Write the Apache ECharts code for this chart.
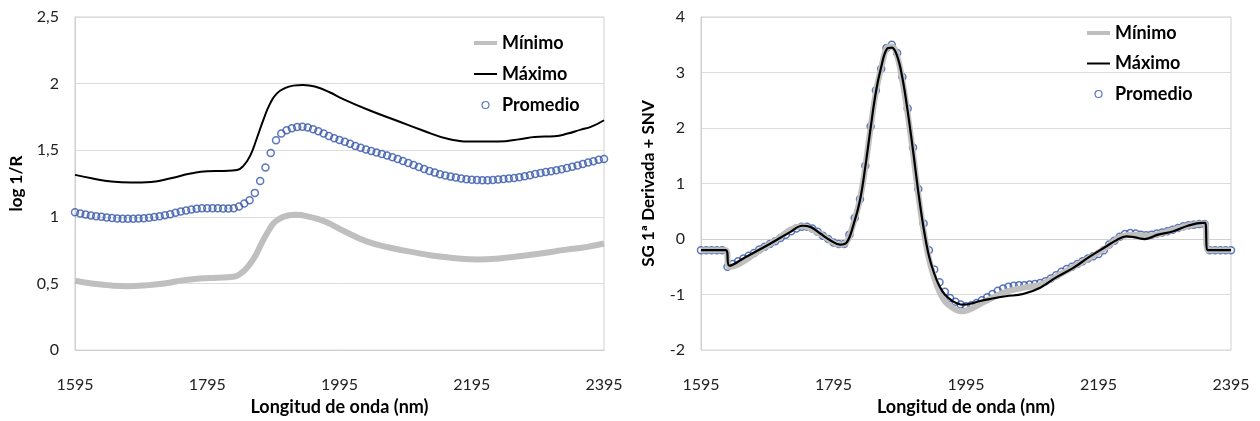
<!DOCTYPE html>
<html>
<head>
<meta charset="utf-8">
<script src="https://cdn.jsdelivr.net/npm/echarts@6/dist/echarts.min.js"></script>
<style>
html,body{margin:0;padding:0;background:#fff;}
#chart{width:1260px;height:421px;}
</style>
</head>
<body>
<div id="chart"></div>
<script>
// ---------- shared ----------
const xTickLabels = [1595, 1795, 1995, 2195, 2395];
const seriesNames = ['Mínimo', 'Máximo', 'Promedio'];

// Promedio sampling wavelengths (nm)
const wlProm = [1595,1603,1611,1619,1627,1635,1643,1651,1659,1667,1675,1683,1691,1699,1707,1715,1723,1731,1739,1747,1755,1763,1771,1779,1787,1795,1803,1811,1819,1827,1835,1843,1851,1859,1867,1875,1883,1891,1899,1907,1915,1923,1931,1939,1947,1955,1963,1971,1979,1987,1995,2003,2011,2019,2027,2035,2043,2051,2059,2067,2075,2083,2091,2099,2107,2115,2123,2131,2139,2147,2155,2163,2171,2179,2187,2195,2203,2211,2219,2227,2235,2243,2251,2259,2267,2275,2283,2291,2299,2307,2315,2323,2331,2339,2347,2355,2363,2371,2379,2387,2395];

// ---------- left chart: log 1/R ----------
const leftYTicks = [0, 0.5, 1, 1.5, 2, 2.5];
const leftPromedio = [1.035,1.025,1.018,1.011,1.005,1.0,0.995,0.991,0.988,0.986,0.985,0.986,0.988,0.99,0.994,0.999,1.005,1.012,1.02,1.03,1.04,1.048,1.055,1.061,1.064,1.065,1.065,1.064,1.062,1.062,1.065,1.078,1.10,1.125,1.18,1.27,1.37,1.48,1.575,1.625,1.65,1.665,1.675,1.676,1.67,1.658,1.642,1.625,1.607,1.59,1.576,1.563,1.548,1.532,1.518,1.505,1.494,1.483,1.472,1.46,1.447,1.434,1.42,1.405,1.39,1.375,1.36,1.345,1.332,1.32,1.31,1.302,1.295,1.288,1.283,1.279,1.276,1.275,1.275,1.277,1.28,1.284,1.288,1.292,1.298,1.305,1.313,1.321,1.329,1.336,1.343,1.35,1.358,1.366,1.376,1.386,1.397,1.408,1.418,1.428,1.435];

const leftMaxWl = [1595,1620,1650,1680,1710,1740,1770,1795,1820,1840,1850,1860,1870,1880,1890,1900,1912,1925,1940,1960,1980,2000,2040,2080,2120,2160,2200,2235,2270,2290,2320,2340,2360,2375,2395];
const leftMaxVal = [1.315,1.29,1.265,1.258,1.262,1.29,1.325,1.342,1.345,1.352,1.385,1.46,1.59,1.73,1.85,1.925,1.965,1.985,1.99,1.975,1.935,1.885,1.80,1.725,1.65,1.585,1.565,1.565,1.585,1.60,1.605,1.625,1.655,1.675,1.725];

const leftMinWl = [1595,1620,1650,1673,1700,1730,1760,1784,1810,1834,1847,1857,1867,1877,1887,1897,1910,1928,1950,1973,2003,2036,2070,2112,2150,2203,2240,2288,2338,2370,2395];
const leftMinVal = [0.52,0.5,0.485,0.48,0.485,0.5,0.525,0.538,0.543,0.55,0.58,0.63,0.70,0.80,0.89,0.96,1.0,1.015,1.0,0.965,0.89,0.816,0.77,0.73,0.70,0.68,0.69,0.717,0.754,0.775,0.80];

// ---------- right chart: SG 1ª derivada + SNV ----------
const rightYTicks = [-2, -1, 0, 1, 2, 3, 4];
const rightPromedio = [-0.2,-0.2,-0.2,-0.2,-0.2,-0.5,-0.45,-0.40,-0.35,-0.30,-0.25,-0.19,-0.14,-0.09,-0.04,0.02,0.08,0.14,0.19,0.22,0.22,0.19,0.13,0.06,0.0,-0.06,-0.09,-0.09,0.08,0.38,0.72,1.32,2.03,2.68,3.07,3.44,3.5,3.35,2.92,2.35,1.65,0.9,0.28,-0.2,-0.55,-0.78,-0.95,-1.06,-1.13,-1.18,-1.21,-1.19,-1.15,-1.1,-1.05,-0.99,-0.93,-0.89,-0.86,-0.84,-0.83,-0.83,-0.82,-0.81,-0.79,-0.76,-0.71,-0.65,-0.59,-0.54,-0.5,-0.45,-0.4,-0.35,-0.31,-0.27,-0.2,-0.1,-0.03,0.04,0.09,0.11,0.1,0.08,0.07,0.08,0.1,0.12,0.14,0.17,0.2,0.23,0.25,0.26,0.27,0.27,-0.2,-0.2,-0.2,-0.2,-0.2];

const rightMaxWl = [1595,1632,1638,1660,1700,1730,1748,1760,1775,1790,1805,1815,1825,1835,1843,1851,1859,1867,1876,1883,1891,1899,1907,1915,1923,1931,1939,1947,1955,1963,1975,1990,2000,2015,2031,2055,2081,2107,2130,2157,2180,2207,2222,2237,2250,2265,2285,2308,2330,2352,2356,2360,2395];
const rightMaxVal = [-0.2,-0.2,-0.48,-0.34,-0.08,0.13,0.24,0.22,0.1,-0.02,-0.1,-0.06,0.25,0.7,1.3,2.0,2.65,3.1,3.43,3.45,3.3,2.9,2.3,1.6,0.85,0.2,-0.3,-0.62,-0.85,-1.0,-1.12,-1.18,-1.17,-1.12,-1.08,-1.03,-0.99,-0.875,-0.7,-0.52,-0.33,-0.13,-0.02,0.05,0.03,0.0,0.08,0.14,0.24,0.29,0.29,-0.2,-0.2];

const rightMinWl = [1595,1632,1638,1700,1748,1775,1805,1815,1825,1835,1843,1851,1859,1867,1876,1883,1891,1899,1907,1915,1923,1931,1939,1947,1955,1963,1975,1988,2000,2015,2031,2055,2081,2107,2130,2157,2187,2207,2230,2250,2270,2300,2330,2352,2356,2360,2395];
const rightMinVal = [-0.2,-0.2,-0.5,-0.08,0.23,0.09,-0.1,-0.05,0.28,0.72,1.3,2.0,2.65,3.08,3.45,3.47,3.3,2.85,2.25,1.55,0.8,0.15,-0.35,-0.7,-0.95,-1.12,-1.24,-1.3,-1.27,-1.18,-1.08,-0.95,-0.88,-0.82,-0.68,-0.5,-0.3,-0.15,0.05,0.08,0.06,0.14,0.24,0.28,0.28,-0.2,-0.2];

// ---------- helpers ----------
const FONT = 'Lato, "Open Sans", "DejaVu Sans", sans-serif';
const GREY = '#BFBFBF';
const BLUE = '#3355AA';
const zip = (xs, ys) => xs.map((x, i) => [x, ys[i]]);

function xAxisCfg(gi) {
  return {
    gridIndex: gi, type: 'value', min: 1595, max: 2395,
    name: 'Longitud de onda (nm)', nameLocation: 'middle', nameGap: 46,
    nameTextStyle: { fontFamily: FONT, fontSize: 18, fontWeight: 'bold', color: '#000' },
    axisLine: { show: true, lineStyle: { color: '#D0D0D0', width: 1 } },
    axisTick: { show: false },
    splitLine: { show: false },
    axisLabel: { customValues: xTickLabels, formatter: v => String(v), fontFamily: FONT, fontSize: 16, color: '#222', margin: 27, showMinLabel: true, showMaxLabel: true }
  };
}
function yAxisCfg(gi, name, ticks, fmt, gap) {
  return {
    gridIndex: gi, type: 'value', min: ticks[0], max: ticks[ticks.length - 1], interval: ticks[1] - ticks[0],
    name: name, nameLocation: 'middle', nameGap: gap,
    nameTextStyle: { fontFamily: FONT, fontSize: 17, fontWeight: 'bold', color: '#000' },
    axisLine: { show: true, lineStyle: { color: '#D0D0D0', width: 1 } },
    axisTick: { show: false },
    splitLine: { show: true, lineStyle: { color: '#DCDCDC', width: 1 } },
    axisLabel: { formatter: fmt, fontFamily: FONT, fontSize: 16, color: '#222', margin: 16 }
  };
}
function lineSeries(name, gi, data, color, width, smooth) {
  return {
    name: name, type: 'line', xAxisIndex: gi, yAxisIndex: gi, data: data,
    smooth: smooth, symbol: 'none', showSymbol: false,
    lineStyle: { color: color, width: width }, itemStyle: { color: color }
  };
}
function promSeries(gi, data) {
  return {
    name: 'Promedio', type: 'scatter', xAxisIndex: gi, yAxisIndex: gi, data: data,
    symbol: 'circle', symbolSize: 7,
    itemStyle: { color: 'rgba(255,255,255,0)', borderColor: BLUE, borderWidth: 1.5 }
  };
}
function legendCfg(left, top, gap) {
  return {
    orient: 'vertical', left: left, top: top, padding: 0, itemGap: gap, itemWidth: 23, itemHeight: 7,
    textStyle: { fontFamily: FONT, fontSize: 18, fontWeight: 'bold', color: '#000' },
    data: [
      { name: 'Mínimo', itemStyle: { opacity: 0 }, lineStyle: { width: 4, color: GREY } },
      { name: 'Máximo', itemStyle: { opacity: 0 }, lineStyle: { width: 2, color: '#000' } },
      { name: 'Promedio', icon: 'circle', itemStyle: { color: '#fff', borderColor: BLUE, borderWidth: 1.2 } }
    ]
  };
}

const chart = echarts.init(document.getElementById('chart'), null, { renderer: 'canvas' });
chart.setOption({
  animation: false,
  backgroundColor: '#fff',
  grid: [
    { left: 75, top: 17, width: 529, height: 336, show: true, borderColor: '#D0D0D0', borderWidth: 1, backgroundColor: 'transparent' },
    { left: 701, top: 17, width: 530, height: 336, show: true, borderColor: '#D0D0D0', borderWidth: 1, backgroundColor: 'transparent' }
  ],
  legend: [legendCfg(472, 34, 13), legendCfg(1085, 24, 12.5)],
  xAxis: [xAxisCfg(0), xAxisCfg(1)],
  yAxis: [
    yAxisCfg(0, 'log 1/R', leftYTicks, v => String(v).replace('.', ','), 50),
    yAxisCfg(1, 'SG 1ª Derivada + SNV', rightYTicks, v => String(v), 44)
  ],
  series: [
    lineSeries('Mínimo', 0, zip(leftMinWl, leftMinVal), GREY, 6, 0.5),
    lineSeries('Máximo', 0, zip(leftMaxWl, leftMaxVal), '#000', 2, 0.5),
    promSeries(0, zip(wlProm, leftPromedio)),
    lineSeries('Mínimo', 1, zip(rightMinWl, rightMinVal), GREY, 6, 0.4),
    lineSeries('Máximo', 1, zip(rightMaxWl, rightMaxVal), '#000', 2.2, 0.4),
    promSeries(1, zip(wlProm, rightPromedio))
  ]
});
</script>
</body>
</html>
